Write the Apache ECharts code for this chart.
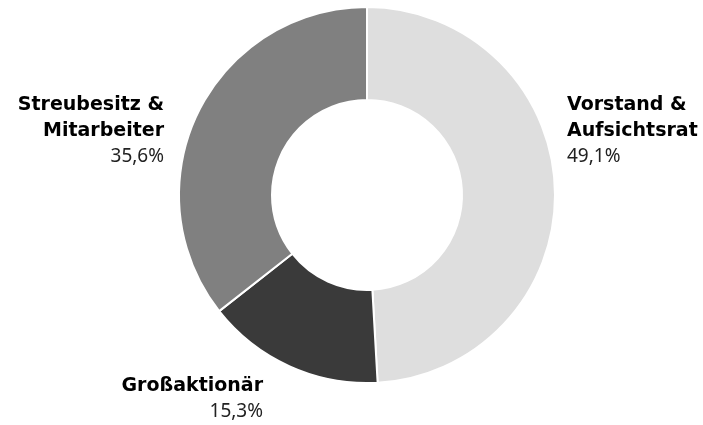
<!DOCTYPE html>
<html>
<head>
<meta charset="utf-8">
<script src="https://cdn.jsdelivr.net/npm/echarts@6/dist/echarts.min.js"></script>
<style>
  html, body { margin: 0; padding: 0; background: #fff; }
  #chart { width: 703px; height: 425px; }
</style>
</head>
<body>
<div id="chart"></div>
<script>
// Aktionärsstruktur
const names = ["Vorstand &\nAufsichtsrat", "Großaktionär", "Streubesitz &\nMitarbeiter"];
const values = [49.1, 15.3, 35.6];
const colors = ["#dedede", "#3a3a3a", "#808080"];

// label anchor per slice (x, y, align)
const labelPos = [
  { x: 567, y: 92, align: "left" },
  { x: 263, y: 373, align: "right" },
  { x: 164, y: 92, align: "right" },
];

const chart = echarts.init(document.getElementById("chart"));

chart.setOption({
  animation: false,
  series: [
    {
      type: "pie",
      center: [367, 195],
      radius: [95, 188],
      startAngle: 90,
      data: names.map((n, i) => ({
        name: n,
        value: values[i],
        itemStyle: { color: colors[i] },
        label: { align: labelPos[i].align },
      })),
      itemStyle: {
        borderColor: "#fff",
        borderWidth: 2,
      },
      label: {
        show: true,
        position: "outside",
        overflow: "none",
        formatter: (p) => "{b|" + p.name + "}\n{p|" + p.value.toFixed(1).replace(".", ",") + "%}",
        rich: {
          b: {
            fontFamily: "DejaVu Sans",
            fontWeight: "bold",
            fontSize: 19,
            lineHeight: 26,
            color: "#000",
          },
          p: {
            fontFamily: "Noto Sans",
            fontSize: 19,
            lineHeight: 26,
            color: "#222",
          },
        },
      },
      labelLine: { show: false },
      labelLayout: (params) => {
        const lp = labelPos[params.dataIndex];
        return { x: lp.x, y: lp.y, align: lp.align, verticalAlign: "top" };
      },
      emphasis: { disabled: true },
    },
  ],
});

window.addEventListener("resize", () => {
  chart.resize();
});
</script>
</body>
</html>
